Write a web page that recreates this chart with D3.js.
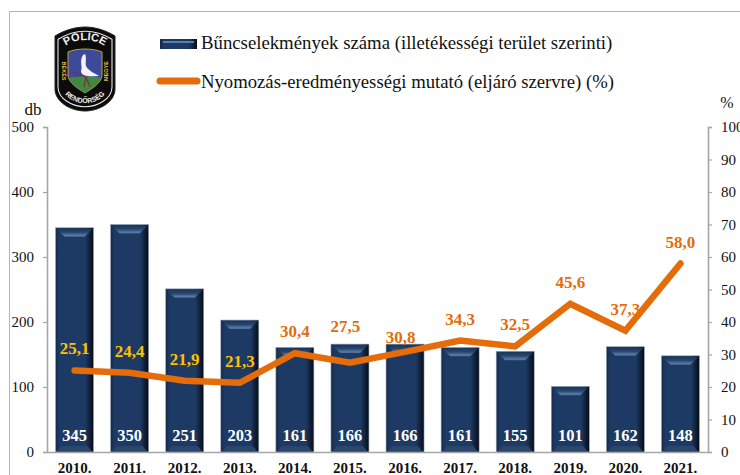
<!DOCTYPE html>
<html>
<head lang="en">
<meta charset="utf-8">
<title>Bűncselekmények száma és nyomozás-eredményességi mutató</title>
<style>
html, body { margin: 0; padding: 0; background: #fff; }
svg { display: block; }
text { font-family: "Liberation Serif", serif; fill: #111; }
</style>
<script src="https://cdn.jsdelivr.net/npm/d3@7"></script>
</head>
<body>
<div id="chart"></div>
<script>
// values
var years = ['2010.', '2011.', '2012.', '2013.', '2014.', '2015.', '2016.', '2017.', '2018.', '2019.', '2020.', '2021.'];
var crimes = [345, 350, 251, 203, 161, 166, 166, 161, 155, 101, 162, 148];
var rate = [25.1, 24.4, 21.9, 21.3, 30.4, 27.5, 30.8, 34.3, 32.5, 45.6, 37.3, 58.0];
var crimeTicks = [0, 100, 200, 300, 400, 500];
var rateTicks = [0, 10, 20, 30, 40, 50, 60, 70, 80, 90, 100];
var barName = 'Bűncselekmények száma (illetékességi terület szerinti)';
var lineName = 'Nyomozás-eredményességi mutató (eljáró szervre) (%)';

var width = 740, height = 475;
var plotLeft = 47, plotRight = 708, plotTop = 127, plotBottom = 452;
var navy = '#1d3a64', orange = '#e46c0a', gold = '#ffc000', axisGray = '#a6a6a6';

var svg = d3.select('#chart').append('svg')
    .attr('width', width)
    .attr('height', height);

var defs = svg.append('defs');

// bar bevel: dark sides, lighter stripe under the top edge
var sideGrad = defs.append('linearGradient').attr('id', 'barSide');
sideGrad.append('stop').attr('offset', '0').attr('stop-color', '#14294a');
sideGrad.append('stop').attr('offset', '0.1').attr('stop-color', navy);
sideGrad.append('stop').attr('offset', '0.78').attr('stop-color', navy);
sideGrad.append('stop').attr('offset', '1').attr('stop-color', '#050b16');

var topGrad = defs.append('linearGradient').attr('id', 'barTop')
    .attr('x1', 0).attr('x2', 0).attr('y1', 0).attr('y2', 1);
topGrad.append('stop').attr('offset', '0').attr('stop-color', '#1b3558');
topGrad.append('stop').attr('offset', '0.45').attr('stop-color', '#28476f');
topGrad.append('stop').attr('offset', '0.85').attr('stop-color', '#5a7aa3');
topGrad.append('stop').attr('offset', '1').attr('stop-color', '#4a6a94');

// outer frame, only top and left are visible in the picture
svg.append('path')
    .attr('d', 'M9.5,' + height + 'V11.5H' + width)
    .attr('fill', 'none')
    .attr('stroke', '#b5b5b5')
    .attr('stroke-width', 1);

var x = d3.scaleBand().domain(years).range([plotLeft, plotRight]).paddingInner(0.31).paddingOuter(0.155);
var yBar = d3.scaleLinear().domain([0, 500]).range([plotBottom, plotTop]);
var yRate = d3.scaleLinear().domain([0, 100]).range([plotBottom, plotTop]);

// bars
var bars = svg.append('g').selectAll('g').data(crimes).enter().append('g')
    .attr('transform', function(d, i) { return 'translate(' + x(years[i]) + ',' + yBar(d) + ')'; });

bars.append('rect')
    .attr('width', x.bandwidth())
    .attr('height', function(d) { return yBar(0) - yBar(d); })
    .attr('fill', 'url(#barSide)')
    .attr('stroke', '#9aa7b8')
    .attr('stroke-width', 0.6);

// top bevel
bars.append('path')
    .attr('d', function() {
        var w = x.bandwidth();
        return 'M1,1H' + (w - 1) + 'L' + (w - 9) + ',9H9Z';
    })
    .attr('fill', 'url(#barTop)');

// bottom bevel
bars.append('path')
    .attr('d', function(d) {
        var w = x.bandwidth(), h = yBar(0) - yBar(d);
        return 'M1,' + h + 'H' + (w - 1) + 'L' + (w - 6) + ',' + (h - 6) + 'H6Z';
    })
    .attr('fill', '#2a466c');

// bar value labels
svg.append('g').selectAll('text').data(crimes).enter().append('text')
    .attr('x', function(d, i) { return x(years[i]) + x.bandwidth() / 2; })
    .attr('y', plotBottom - 11)
    .attr('text-anchor', 'middle')
    .attr('font-size', 16.5)
    .attr('font-weight', 'bold')
    .style('fill', '#fff')
    .text(function(d) { return d; });

// axes
var axisLeft = d3.axisLeft(yBar).tickValues(crimeTicks).tickSizeOuter(0).tickSize(4).tickPadding(9);
var axisRight = d3.axisRight(yRate).tickValues(rateTicks).tickSizeOuter(0).tickSize(4).tickPadding(9);
var axisBottom = d3.axisBottom(x).tickSize(0).tickPadding(10);

var gLeft = svg.append('g').attr('transform', 'translate(' + plotLeft + ',0)').call(axisLeft);
var gRight = svg.append('g').attr('transform', 'translate(' + plotRight + ',0)').call(axisRight);
var gBottom = svg.append('g').attr('transform', 'translate(0,' + plotBottom + ')').call(axisBottom);

[gLeft, gRight, gBottom].forEach(function(g) {
    g.attr('font-family', null).attr('font-size', null);
    g.selectAll('.domain').attr('stroke', axisGray).attr('stroke-width', 1.6);
    g.selectAll('line').attr('stroke', axisGray).attr('stroke-width', 1.2);
    g.selectAll('text').attr('font-size', 15).style('fill', '#111');
});
gBottom.selectAll('text').attr('font-weight', 'bold').attr('font-size', 15);

svg.append('text').attr('x', 33).attr('y', 115).attr('text-anchor', 'middle').attr('font-size', 17).text('db');
svg.append('text').attr('x', 727).attr('y', 108).attr('text-anchor', 'middle').attr('font-size', 16).text('%');

// rate line
var line = d3.line()
    .x(function(d, i) { return x(years[i]) + x.bandwidth() / 2; })
    .y(function(d) { return yRate(d); });

svg.append('path')
    .datum(rate)
    .attr('d', line)
    .attr('fill', 'none')
    .attr('stroke', orange)
    .attr('stroke-width', 6.5)
    .attr('stroke-linejoin', 'miter')
    .attr('stroke-linecap', 'round');

// rate labels, 2015 and 2016 are moved by hand in the source
svg.append('g').selectAll('text').data(rate).enter().append('text')
    .attr('x', function(d, i) { return x(years[i]) + x.bandwidth() / 2 - (i === 5 || i === 6 ? 4.5 : 0); })
    .attr('y', function(d, i) { return yRate(d) - (i === 5 ? 30.5 : i === 6 ? 9 : 16); })
    .attr('text-anchor', 'middle')
    .attr('font-size', 17)
    .attr('font-weight', 'bold')
    .style('fill', function(d, i) { return i < 4 ? gold : orange; })
    .text(function(d) { return d.toFixed(1).replace('.', ','); });

// legend
var legend = svg.append('g');
legend.append('rect').attr('x', 160).attr('y', 39).attr('width', 37).attr('height', 10).attr('fill', 'url(#barSide)');
legend.append('rect').attr('x', 163).attr('y', 41).attr('width', 31).attr('height', 2).attr('fill', '#5d7ea6');
legend.append('line')
    .attr('x1', 160).attr('x2', 197).attr('y1', 81).attr('y2', 81)
    .attr('stroke', orange).attr('stroke-width', 7).attr('stroke-linecap', 'round');
legend.append('text').attr('x', 201).attr('y', 49).attr('font-size', 18.75).text(barName);
legend.append('text').attr('x', 201).attr('y', 88).attr('font-size', 18.7).text(lineName);

// police badge
var badge = svg.append('g').attr('transform', 'translate(85,69)');
var shield = 'M0,-42 C11,-42 22,-38 30,-33 V20 C30,33 14,42 0,42 C-14,42 -30,33 -30,20 V-33 C-22,-38 -11,-42 0,-42Z';
badge.append('path').attr('d', shield).attr('fill', '#0b0b0b').attr('stroke', '#222').attr('stroke-width', 1);
badge.append('path').attr('d', shield).attr('transform', 'scale(0.9)').attr('fill', 'none').attr('stroke', '#e8e8e8').attr('stroke-width', 1.2);
badge.append('path').attr('d', 'M-17,-17 C-8,-21 8,-21 17,-17 V6 C17,14 6,20 0,24 C-6,20 -17,14 -17,6Z')
    .attr('fill', '#3d4a9a').attr('stroke', '#b8a83c').attr('stroke-width', 1);
badge.append('path').attr('d', 'M-16,9 C-8,7 8,7 16,9 C12,16 5,20 0,24 C-5,20 -12,16 -16,9Z').attr('fill', '#3f8a3c');
badge.append('path').attr('d', 'M-2,-14 C-6,-8 -2,-2 -4,2 C-4,7 4,8 14,7 C7,3 3,1 1,-3 C0,-7 2,-10 0,-15Z').attr('fill', '#f4f4f4');
badge.append('path').attr('d', 'M-12,3 L1,8 L-1,18 M1,8 L5,18').attr('fill', 'none').attr('stroke', '#8a2b4a').attr('stroke-width', 1.3);

defs.append('path').attr('id', 'badgeTop').attr('d', 'M-23,-20 C-12,-32 12,-32 23,-20');
defs.append('path').attr('id', 'badgeBottom').attr('d', 'M-25,17 C-16,40 16,40 25,17');

badge.append('text').attr('font-size', 11).attr('font-weight', 'bold').style('font-family', 'Liberation Sans').style('fill', '#f0f0f0')
    .append('textPath').attr('href', '#badgeTop').attr('startOffset', '50%').attr('text-anchor', 'middle').text('POLICE');
badge.append('text').attr('font-size', 7).attr('font-weight', 'bold').style('font-family', 'Liberation Sans').style('fill', '#f0f0f0')
    .append('textPath').attr('href', '#badgeBottom').attr('startOffset', '50%').attr('text-anchor', 'middle').text('RENDŐRSÉG');
badge.append('text').attr('transform', 'translate(-23,2) rotate(90)').attr('text-anchor', 'middle').attr('font-size', 5.5)
    .attr('font-weight', 'bold').style('font-family', 'Liberation Sans').style('fill', '#d8c24a').text('BÉKÉS');
badge.append('text').attr('transform', 'translate(23,2) rotate(-90)').attr('text-anchor', 'middle').attr('font-size', 5.5)
    .attr('font-weight', 'bold').style('font-family', 'Liberation Sans').style('fill', '#d8c24a').text('MEGYE');
</script>
</body>
</html>
